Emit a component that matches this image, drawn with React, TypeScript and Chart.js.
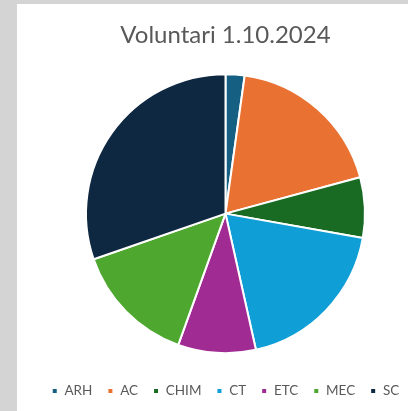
import React, { useEffect, useRef } from "react";
import { Chart, registerables } from "chart.js";
Chart.register(...registerables);

const categories = ["ARH", "AC", "CHIM", "CT", "ETC", "MEC", "SC"];
const values = [2.2, 18.6, 7.0, 18.7, 9.0, 14.2, 30.3];
const colors = ["#156082", "#E97132", "#196B24", "#0F9ED5", "#A02B93", "#4EA72E", "#0E2841"];
const titleText = "Voluntari 1.10.2024";

export default function App() {
  const ref = useRef<HTMLCanvasElement>(null);
  useEffect(() => {
    document.body.style.margin = "0";
    const chart = new Chart(ref.current!, {
      type: "pie",
      data: {
        labels: categories,
        datasets: [
          {
            data: values,
            backgroundColor: colors,
            borderColor: "#ffffff",
            borderWidth: 2,
            radius: 139.5,
          } as any,
        ],
      },
      options: {
        responsive: false,
        animation: false,
        devicePixelRatio: 1,
        layout: { padding: { top: 0, bottom: 3.25, left: 0, right: 0 } },
        plugins: {
          title: {
            display: true,
            text: titleText,
            color: "#595959",
            font: { family: "Lato", size: 24, weight: "normal" },
            padding: { top: 16.4, bottom: 8.8 },
          },
          legend: {
            position: "bottom",
            labels: {
              boxWidth: 6,
              boxHeight: 6,
              padding: 15,
              color: "#595959",
              font: { family: "Lato", size: 13.5 },
            },
          },
          tooltip: { enabled: false },
        },
      },
    });
    return () => chart.destroy();
  }, []);
  return (
    <div style={{ position: "relative", width: 408, height: 411, overflow: "hidden", background: "#d4d4d4" }}>
      <div style={{ position: "absolute", left: 17, top: 4, width: 417, height: 407, background: "#ffffff" }}>
        <canvas ref={ref} width={417} height={407} style={{ display: "block" }} />
      </div>
    </div>
  );
}
